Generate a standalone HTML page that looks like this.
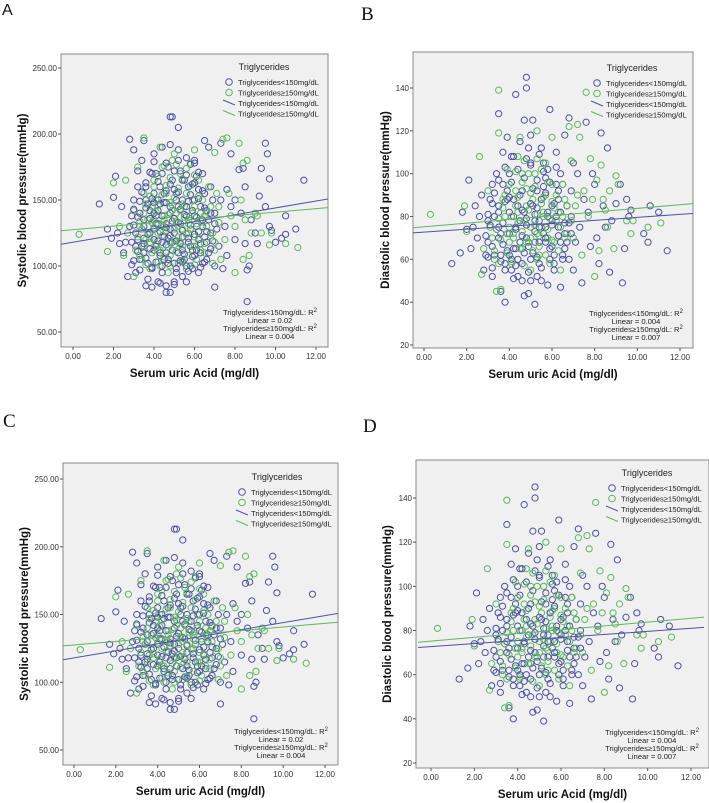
<!DOCTYPE html>
<html><head><meta charset="utf-8"><style>
html,body{margin:0;padding:0;background:#fff;width:709px;height:803px;overflow:hidden}
svg{display:block}
.tk{font-family:"Liberation Sans",sans-serif;font-size:8px;fill:#333}
.lg{font-family:"Liberation Sans",sans-serif;font-size:7.6px;fill:#222}
.tt{font-family:"Liberation Sans",sans-serif;font-size:11.5px;font-weight:bold;fill:#111}
</style></head><body>
<svg id="fig" width="709" height="803" viewBox="0 0 709 803" xmlns="http://www.w3.org/2000/svg"></svg>
<script>
// ---- data ----
const sbpBlue=[[3.2,120],[3.5,135],[3.8,142],[4.0,128],[4.2,150],[4.4,118],[4.6,132],[4.8,140],[5.0,125],[5.2,145],[5.4,112],[5.6,138],[5.8,128],[6.0,150],[6.2,120],[6.4,135],[6.6,142],[3.3,105],[3.6,160],[3.9,98],[4.1,170],[4.3,108],[4.5,155],[4.7,102],[4.9,165],[5.1,95],[5.3,172],[5.5,105],[5.7,160],[5.9,98],[6.1,168],[6.3,110],[6.5,155],[6.8,125],[7.0,140],[7.2,115],[2.8,130],[2.6,118],[2.4,145],[2.2,125],[3.0,150],[3.1,95],[3.4,180],[3.7,90],[4.0,185],[4.2,88],[4.4,190],[4.6,85],[4.8,192],[5.0,88],[5.2,188],[5.4,92],[5.6,182],[5.8,100],[6.0,178],[6.2,95],[6.4,170],[6.6,105],[6.8,160],[7.0,100],[7.3,150],[7.5,130],[7.8,145],[8.0,120],[8.3,140],[8.5,160],[8.7,100],[9.0,125],[9.2,153],[9.5,145],[9.7,130],[10.0,118],[10.5,138],[11.0,128],[11.4,165],[9.5,193],[9.6,185],[9.3,174],[9.7,166],[8.6,73],[7.0,84],[4.6,80],[4.8,80],[4.8,213],[4.9,213],[5.2,205],[2.8,196],[3.0,188],[1.3,147],[1.7,128],[1.9,121],[2.0,152],[2.1,168],[2.3,117],[2.5,110],[2.7,92],[2.9,101],[3.2,172],[3.5,195],[3.6,85],[3.9,84],[4.3,87],[5.0,86],[5.6,88],[6.0,180],[6.5,195],[6.7,190],[7.3,193],[7.8,185],[8.2,173],[8.4,174],[8.6,97],[8.5,117],[7.6,108],[7.4,98],[3.3,140],[3.8,125],[4.1,138],[4.5,122],[4.9,118],[5.3,132],[5.7,118],[6.1,130],[6.5,122],[3.5,110],[4.0,112],[4.6,110],[5.2,110],[5.8,115],[6.3,145],[3.6,150],[4.3,160],[4.7,175],[5.5,165],[6.2,158],[3.9,170],[5.1,155],[3.4,128],[4.2,132],[4.8,128],[5.4,122],[6.0,138],[6.8,140],[7.1,128],[2.9,138],[3.1,115],[4.4,100],[5.0,102],[5.6,100],[6.4,102],[3.7,102],[4.1,115],[5.9,112],[6.6,118],[3.2,160],[4.0,148],[4.6,148],[5.4,150],[6.9,150],[7.6,158],[8.0,150],[8.8,135],[9.1,117],[10.3,121],[10.5,124],[9.8,127]];
const sbpBlueCore=[[3.3,97],[3.9,99],[4.4,95],[5.1,98],[5.7,96],[6.3,99],[3.0,104],[3.6,106],[4.1,103],[4.7,105],[5.3,104],[5.9,107],[6.5,103],[3.2,111],[3.8,113],[4.3,110],[4.9,112],[5.5,109],[6.1,112],[6.7,110],[2.9,118],[3.5,117],[4.0,120],[4.6,116],[5.1,119],[5.7,121],[6.3,117],[6.9,119],[3.1,125],[3.7,124],[4.3,126],[4.8,123],[5.4,127],[6.0,124],[6.6,126],[3.0,131],[3.5,130],[4.1,132],[4.6,129],[5.2,133],[5.8,131],[6.4,130],[7.0,132],[3.2,137],[3.8,136],[4.4,138],[5.0,136],[5.5,139],[6.1,137],[6.7,135],[3.0,143],[3.6,144],[4.2,142],[4.8,145],[5.3,143],[5.9,142],[6.5,144],[3.3,149],[3.9,151],[4.5,148],[5.1,150],[5.7,149],[6.2,151],[3.4,156],[4.0,155],[4.6,157],[5.2,156],[5.8,154],[6.4,157],[3.6,163],[4.2,164],[4.8,162],[5.4,165],[6.0,163],[3.8,171],[4.4,170],[5.0,172],[5.6,169],[6.2,171],[4.0,179],[4.6,178],[5.2,180],[5.8,177],[3.5,121],[4.2,119],[4.9,134],[5.6,145],[6.2,126],[4.5,105],[5.4,103],[3.7,147],[6.8,113],[3.4,115],[4.0,140],[4.7,121],[5.3,117],[6.0,108],[4.3,147],[5.0,158],[5.9,162],[3.9,133]];
const sbpGreen=[[0.3,124],[1.7,111],[2.0,163],[2.5,108],[2.7,125],[3.0,142],[3.3,130],[3.6,120],[3.9,145],[4.2,125],[4.5,138],[4.8,118],[5.1,140],[5.4,128],[5.7,135],[6.0,122],[6.3,140],[6.6,130],[6.9,125],[7.2,145],[3.5,155],[4.0,165],[4.4,175],[4.9,180],[5.3,170],[5.8,178],[6.2,165],[6.7,160],[7.1,155],[3.4,105],[3.8,98],[4.3,100],[4.7,95],[5.2,102],[5.6,98],[6.1,105],[6.5,110],[7.0,112],[7.5,120],[7.8,138],[8.0,130],[8.3,150],[8.5,135],[8.8,125],[9.0,140],[9.3,125],[9.8,125],[9.7,116],[10.5,117],[11.1,114],[8.2,193],[7.6,197],[7.4,196],[7.0,186],[8.4,178],[8.6,180],[8.0,95],[8.4,105],[8.7,108],[3.5,197],[4.3,190],[5.0,185],[6.0,188],[3.2,175],[2.6,165],[3.7,135],[4.1,150],[4.6,155],[5.0,128],[5.5,145],[5.9,150],[6.4,150],[4.2,112],[4.8,108],[5.4,115],[6.0,115],[3.0,92],[6.9,102],[7.3,105],[3.1,112],[2.3,130],[4.9,142],[5.2,122],[4.5,130],[5.7,125],[6.8,145],[7.7,155],[9.1,138],[4.0,135],[3.8,118]];
const sbpGreenCore=[[3.6,101],[4.2,103],[4.8,100],[5.4,104],[6.0,101],[3.3,108],[3.9,110],[4.5,107],[5.1,111],[5.7,108],[6.3,112],[3.5,115],[4.1,117],[4.7,114],[5.3,118],[5.9,115],[6.5,117],[3.2,122],[3.8,121],[4.4,123],[5.0,120],[5.6,124],[6.2,121],[6.8,123],[3.4,128],[4.0,129],[4.6,127],[5.2,130],[5.8,128],[6.4,129],[3.3,134],[3.9,133],[4.5,135],[5.1,134],[5.7,132],[6.3,135],[3.5,140],[4.1,141],[4.7,139],[5.3,142],[5.9,140],[6.5,138],[3.6,147],[4.2,146],[4.8,148],[5.4,147],[6.0,145],[3.8,153],[4.4,154],[5.0,152],[5.6,155],[6.2,153],[4.0,160],[4.6,161],[5.2,159],[5.8,161],[4.2,168],[4.8,167],[5.4,166],[6.0,169],[4.5,176],[5.1,177],[5.6,174],[4.4,131],[5.0,116],[5.5,137],[3.7,125],[6.1,132],[4.3,112],[4.9,146],[6.6,141],[7.2,133],[7.0,118]];
const dbpBlue=[[1.3,58],[1.7,63],[1.8,82],[2.0,74],[2.1,97],[2.2,65],[2.4,85],[2.5,70],[2.7,90],[2.8,55],[3.0,78],[3.2,95],[3.3,62],[3.5,128],[3.5,85],[3.6,45],[3.7,110],[3.8,40],[3.9,72],[4.0,100],[4.1,55],[4.2,88],[4.3,137],[4.4,60],[4.5,115],[4.6,50],[4.7,125],[4.7,82],[4.8,140],[4.8,145],[4.9,68],[5.0,105],[5.1,125],[5.2,39],[5.2,78],[5.3,92],[5.4,58],[5.5,112],[5.6,72],[5.7,98],[5.8,48],[5.9,130],[6.0,85],[6.1,62],[6.2,110],[6.3,75],[6.4,47],[6.5,95],[6.6,118],[6.7,68],[6.8,126],[6.9,80],[7.0,55],[7.2,100],[7.4,49],[7.5,88],[7.6,124],[7.8,66],[8.0,95],[8.2,58],[8.3,119],[8.5,75],[8.6,112],[8.7,54],[9.0,86],[9.3,49],[9.4,65],[9.5,88],[9.6,80],[9.7,83],[10.3,72],[10.5,68],[10.6,85],[11.0,82],[11.4,64],[3.0,68],[3.3,80],[3.6,72],[3.9,88],[4.2,65],[4.5,78],[4.8,70],[5.1,85],[5.4,75],[5.7,68],[6.0,78],[6.3,88],[6.6,72],[3.4,100],[3.8,58],[4.1,108],[4.4,52],[4.9,112],[5.3,52],[5.6,105],[6.1,55],[6.5,60],[6.9,92],[7.3,75],[7.7,82],[8.1,70],[2.6,80],[2.9,62],[3.1,88],[3.7,95],[4.0,62],[4.3,74],[4.6,92],[5.0,60],[5.5,88],[5.9,65],[6.2,95],[6.8,60],[7.1,68],[2.3,75],[3.2,52],[4.7,43],[4.9,44],[5.8,102],[6.4,100],[7.0,105],[4.2,80],[4.6,65],[5.2,68],[5.8,82],[3.5,75],[4.0,82],[6.7,85],[7.9,100],[8.4,85],[8.8,78],[9.2,95],[3.9,117],[5.0,118],[5.5,50]];
const dbpBlueCore=[[3.2,56],[3.8,55],[4.3,57],[4.9,54],[5.5,56],[6.1,58],[3.0,61],[3.6,62],[4.1,60],[4.7,63],[5.3,61],[5.9,60],[6.5,62],[3.2,66],[3.7,67],[4.3,65],[4.9,66],[5.4,68],[6.0,66],[6.6,65],[2.9,71],[3.5,70],[4.0,72],[4.6,71],[5.2,73],[5.7,70],[6.3,71],[6.9,72],[3.1,76],[3.7,77],[4.3,75],[4.8,76],[5.4,78],[6.0,76],[6.6,77],[3.0,81],[3.5,82],[4.1,80],[4.6,83],[5.2,81],[5.8,80],[6.4,82],[3.2,86],[3.8,87],[4.4,85],[5.0,86],[5.5,88],[6.1,86],[6.7,85],[3.3,91],[3.9,92],[4.5,90],[5.1,93],[5.7,91],[6.3,92],[3.5,97],[4.1,96],[4.7,98],[5.3,97],[5.9,96],[3.8,103],[4.4,102],[5.0,104],[5.6,101],[6.2,103],[4.2,108],[4.8,107],[5.4,109],[3.6,59],[4.5,68],[5.1,63],[5.7,75],[6.2,80],[3.4,74],[4.0,89],[4.6,58],[5.3,84],[6.8,77],[3.9,64],[4.8,79],[5.6,94],[6.4,68],[4.2,51],[5.0,50]];
const dbpGreen=[[0.3,81],[1.9,85],[2.0,73],[2.6,108],[2.7,53],[3.0,92],[3.2,70],[3.5,139],[3.5,119],[3.4,45],[3.6,46],[3.8,80],[4.0,95],[4.2,72],[4.4,108],[4.5,117],[4.6,65],[4.8,85],[5.0,75],[5.2,100],[5.3,120],[5.4,62],[5.6,82],[5.8,70],[6.0,95],[6.0,117],[6.2,78],[6.4,55],[6.6,88],[6.8,122],[6.9,106],[7.0,70],[7.2,123],[7.3,117],[7.5,92],[7.6,138],[7.8,107],[8.0,52],[8.1,97],[8.2,64],[8.3,104],[8.4,88],[8.6,75],[8.7,92],[8.9,65],[9.0,99],[9.1,95],[9.5,78],[9.7,72],[9.8,78],[10.5,75],[11.1,77],[3.3,60],[3.7,88],[4.1,58],[4.3,92],[4.7,78],[4.9,68],[5.1,88],[5.5,75],[5.7,105],[5.9,60],[6.3,82],[6.7,72],[7.1,85],[7.4,62],[3.9,102],[4.6,100],[5.0,55],[5.7,90],[6.1,68],[4.4,82],[5.3,72],[3.1,75],[2.8,65],[7.7,80],[7.9,88],[8.5,83],[6.5,95],[4.0,68]];
const dbpGreenCore=[[3.5,58],[4.1,59],[4.7,57],[5.3,60],[5.9,58],[3.3,64],[3.9,63],[4.5,65],[5.1,64],[5.7,62],[6.3,64],[3.6,69],[4.2,70],[4.8,68],[5.4,71],[6.0,69],[6.6,70],[3.4,74],[4.0,75],[4.6,73],[5.2,76],[5.8,74],[6.4,75],[3.5,79],[4.1,80],[4.7,78],[5.3,81],[5.9,79],[6.5,80],[3.7,84],[4.3,85],[4.9,83],[5.5,86],[6.1,84],[6.7,85],[3.8,90],[4.4,89],[5.0,91],[5.6,89],[6.2,90],[4.0,95],[4.6,96],[5.2,94],[5.8,96],[4.3,101],[4.9,100],[5.5,102],[4.7,106],[5.3,107],[4.4,77],[5.0,70],[5.6,80],[3.9,72],[6.0,87],[4.8,93],[5.4,66],[6.9,78],[7.2,90]];
const sbpFitBlue=[118,2.6], sbpFitGreen=[127.5,1.33];
const dbpFitBlue=[72.7,0.69], dbpFitGreen=[75.2,0.86];
const xTicks=[0,2,4,6,8,10,12];
const sbpTicks=[50,100,150,200,250];
const dbpTicks=[20,40,60,80,100,120,140];
const sbpR2=["0.02","0.004"], dbpR2=["0.004","0.007"];

const NS="http://www.w3.org/2000/svg";
const fig=document.getElementById('fig');
function mk(tag,attrs,parent,text){const e=document.createElementNS(NS,tag);for(const k in attrs)e.setAttribute(k,attrs[k]);if(text!==undefined)e.textContent=text;(parent||fig).appendChild(e);return e;}
const BLUE="#4d50a8", GREEN="#5cb85c";

function panel(p){
  const g=mk('g',{});
  
  
  const sx=v=>p.x0+(v-0)*(p.x12-p.x0)/12;
  const sy=v=>p.yA+(v-p.vA)*(p.yB-p.yA)/(p.vB-p.vA);
  const lab=mk('text',{x:p.lx,y:p.ly,style:'font-family:'+p.lf+';font-size:'+p.ls+'px;fill:#111'},g,p.letter);
  
  
  const box=mk('rect',{x:p.bx,y:p.by,width:p.bw,height:p.bh,fill:'#f0f0f0',stroke:'#8a8a8a','stroke-width':1},g);
  
  
  const clipId='clip'+p.letter;
  const cp=mk('clipPath',{id:clipId},g);mk('rect',{x:p.bx,y:p.by,width:p.bw,height:p.bh},cp);
  for(const t of xTicks){const X=sx(t);mk('line',{x1:X,x2:X,y1:p.by+p.bh,y2:p.by+p.bh+3,stroke:'#555'},g);
    const tl=mk('text',{x:X,y:p.by+p.bh+12,'text-anchor':'middle',class:'tk'},g,t.toFixed(2));
    
    }
  for(const t of p.yt){const Y=sy(t);mk('line',{x1:p.bx-3,x2:p.bx,y1:Y,y2:Y,stroke:'#555'},g);
    const tl=mk('text',{x:p.bx-4,y:Y+3,'text-anchor':'end',class:'tk'},g,p.dec?t.toFixed(2):String(t));
    
    }
  const pts=mk('g',{'clip-path':'url(#'+clipId+')'},g);
  const layers=[[p.blue,BLUE,'point-tg-low'],[p.green,GREEN,'point-tg-high'],[p.blueCore,BLUE,'point-tg-low'],[p.greenCore,GREEN,'point-tg-high']];
  for(const [arr,col,nm] of layers){
    for(const d of arr){const c=mk('circle',{cx:sx(d[0]),cy:sy(d[1]),r:3.1,fill:'none',stroke:col,'stroke-width':1},pts);
      
      }
  }
  for(const [f,col,nm] of [[p.fb,BLUE,'fit-line-tg-low'],[p.fg,GREEN,'fit-line-tg-high']]){
    const xa=-0.6,xb=12.6;
    const l=mk('line',{x1:sx(xa),y1:sy(f[0]+f[1]*xa),x2:sx(xb),y2:sy(f[0]+f[1]*xb),stroke:col,'stroke-width':1},pts);
    
    
  }
  const L=mk('g',{},g);
  
  
  const lx=p.legx, ly=p.legy;
  mk('text',{x:lx+35,y:ly,'text-anchor':'middle',class:'lg',style:'font-size:9px'},L,'Triglycerides');
  const names=['Triglycerides<150mg/dL','Triglycerides\u2265150mg/dL','Triglycerides<150mg/dL','Triglycerides\u2265150mg/dL'];
  const cols=[BLUE,GREEN,BLUE,GREEN];
  for(let i=0;i<4;i++){const yy=ly+15+i*10.5;
    if(i<2) mk('circle',{cx:lx,cy:yy-3,r:3.3,fill:'none',stroke:cols[i],'stroke-width':1},L);
    else mk('line',{x1:lx-6,y1:yy-6,x2:lx+6,y2:yy-1,stroke:cols[i]},L);
    const e=mk('text',{x:lx+9,y:yy,class:'lg'},L,names[i]);
    
    }
  const R=mk('g',{},g);
  
  
  const rx=p.rx, ry=p.ry;
  const t1=mk('text',{x:rx,y:ry,'text-anchor':'middle',class:'lg'},R,'Triglycerides<150mg/dL: R');mk('tspan',{dy:-3,style:'font-size:6px'},t1,'2');
  mk('text',{x:rx,y:ry+8,'text-anchor':'middle',class:'lg'},R,'Linear = '+p.r2[0]);
  const t3=mk('text',{x:rx,y:ry+16,'text-anchor':'middle',class:'lg'},R,'Triglycerides\u2265150mg/dL: R');mk('tspan',{dy:-3,style:'font-size:6px'},t3,'2');
  mk('text',{x:rx,y:ry+24,'text-anchor':'middle',class:'lg'},R,'Linear = '+p.r2[1]);
  const xt=mk('text',{x:p.bx+p.bw/2,y:p.by+p.bh+30,'text-anchor':'middle',class:'tt'},g,'Serum uric Acid (mg/dl)');
  
  
  const cy=p.by+p.bh/2;
  const yt=mk('text',{x:p.ytx,y:cy,'text-anchor':'middle',class:'tt',transform:'rotate(-90 '+p.ytx+' '+cy+')'},g,p.ytitle);
  
  
}
const serif='"Liberation Serif",serif', sans='"Liberation Sans",sans-serif';
panel({letter:'A',lx:2,ly:15,lf:sans,ls:16,bx:61,by:54,bw:267,bh:293,x0:73,x12:316,yA:68,vA:250,yB:332,vB:50,yt:sbpTicks,dec:true,blue:sbpBlue,green:sbpGreen,blueCore:sbpBlueCore,greenCore:sbpGreenCore,fb:sbpFitBlue,fg:sbpFitGreen,legx:229,legy:70,rx:270,ry:315,r2:sbpR2,ytx:26,ytitle:'Systolic blood pressure(mmHg)'});
panel({letter:'B',lx:361,ly:20,lf:serif,ls:19,bx:413,by:52,bw:280,bh:296,x0:424,x12:680,yA:88,vA:140,yB:345,vB:20,yt:dbpTicks,dec:false,blue:dbpBlue,green:dbpGreen,blueCore:dbpBlueCore,greenCore:dbpGreenCore,fb:dbpFitBlue,fg:dbpFitGreen,legx:597,legy:71,rx:636,ry:316,r2:dbpR2,ytx:389,ytitle:'Diastolic blood pressure(mmHg)'});
panel({letter:'C',lx:3,ly:427,lf:serif,ls:19,bx:63,by:463,bw:275,bh:302,x0:74,x12:325,yA:479,vA:250,yB:750,vB:50,yt:sbpTicks,dec:true,blue:sbpBlue,green:sbpGreen,blueCore:sbpBlueCore,greenCore:sbpGreenCore,fb:sbpFitBlue,fg:sbpFitGreen,legx:242,legy:480,rx:281,ry:734,r2:sbpR2,ytx:28,ytitle:'Systolic blood pressure(mmHg)'});
panel({letter:'D',lx:363,ly:432,lf:serif,ls:19,bx:416,by:460,bw:293,bh:308,x0:431,x12:691,yA:498,vA:140,yB:763,vB:20,yt:dbpTicks,dec:false,blue:dbpBlue,green:dbpGreen,blueCore:dbpBlueCore,greenCore:dbpGreenCore,fb:dbpFitBlue,fg:dbpFitGreen,legx:612,legy:476,rx:652,ry:735,r2:dbpR2,ytx:391,ytitle:'Diastolic blood pressure(mmHg)'});
</script>
</body></html>
